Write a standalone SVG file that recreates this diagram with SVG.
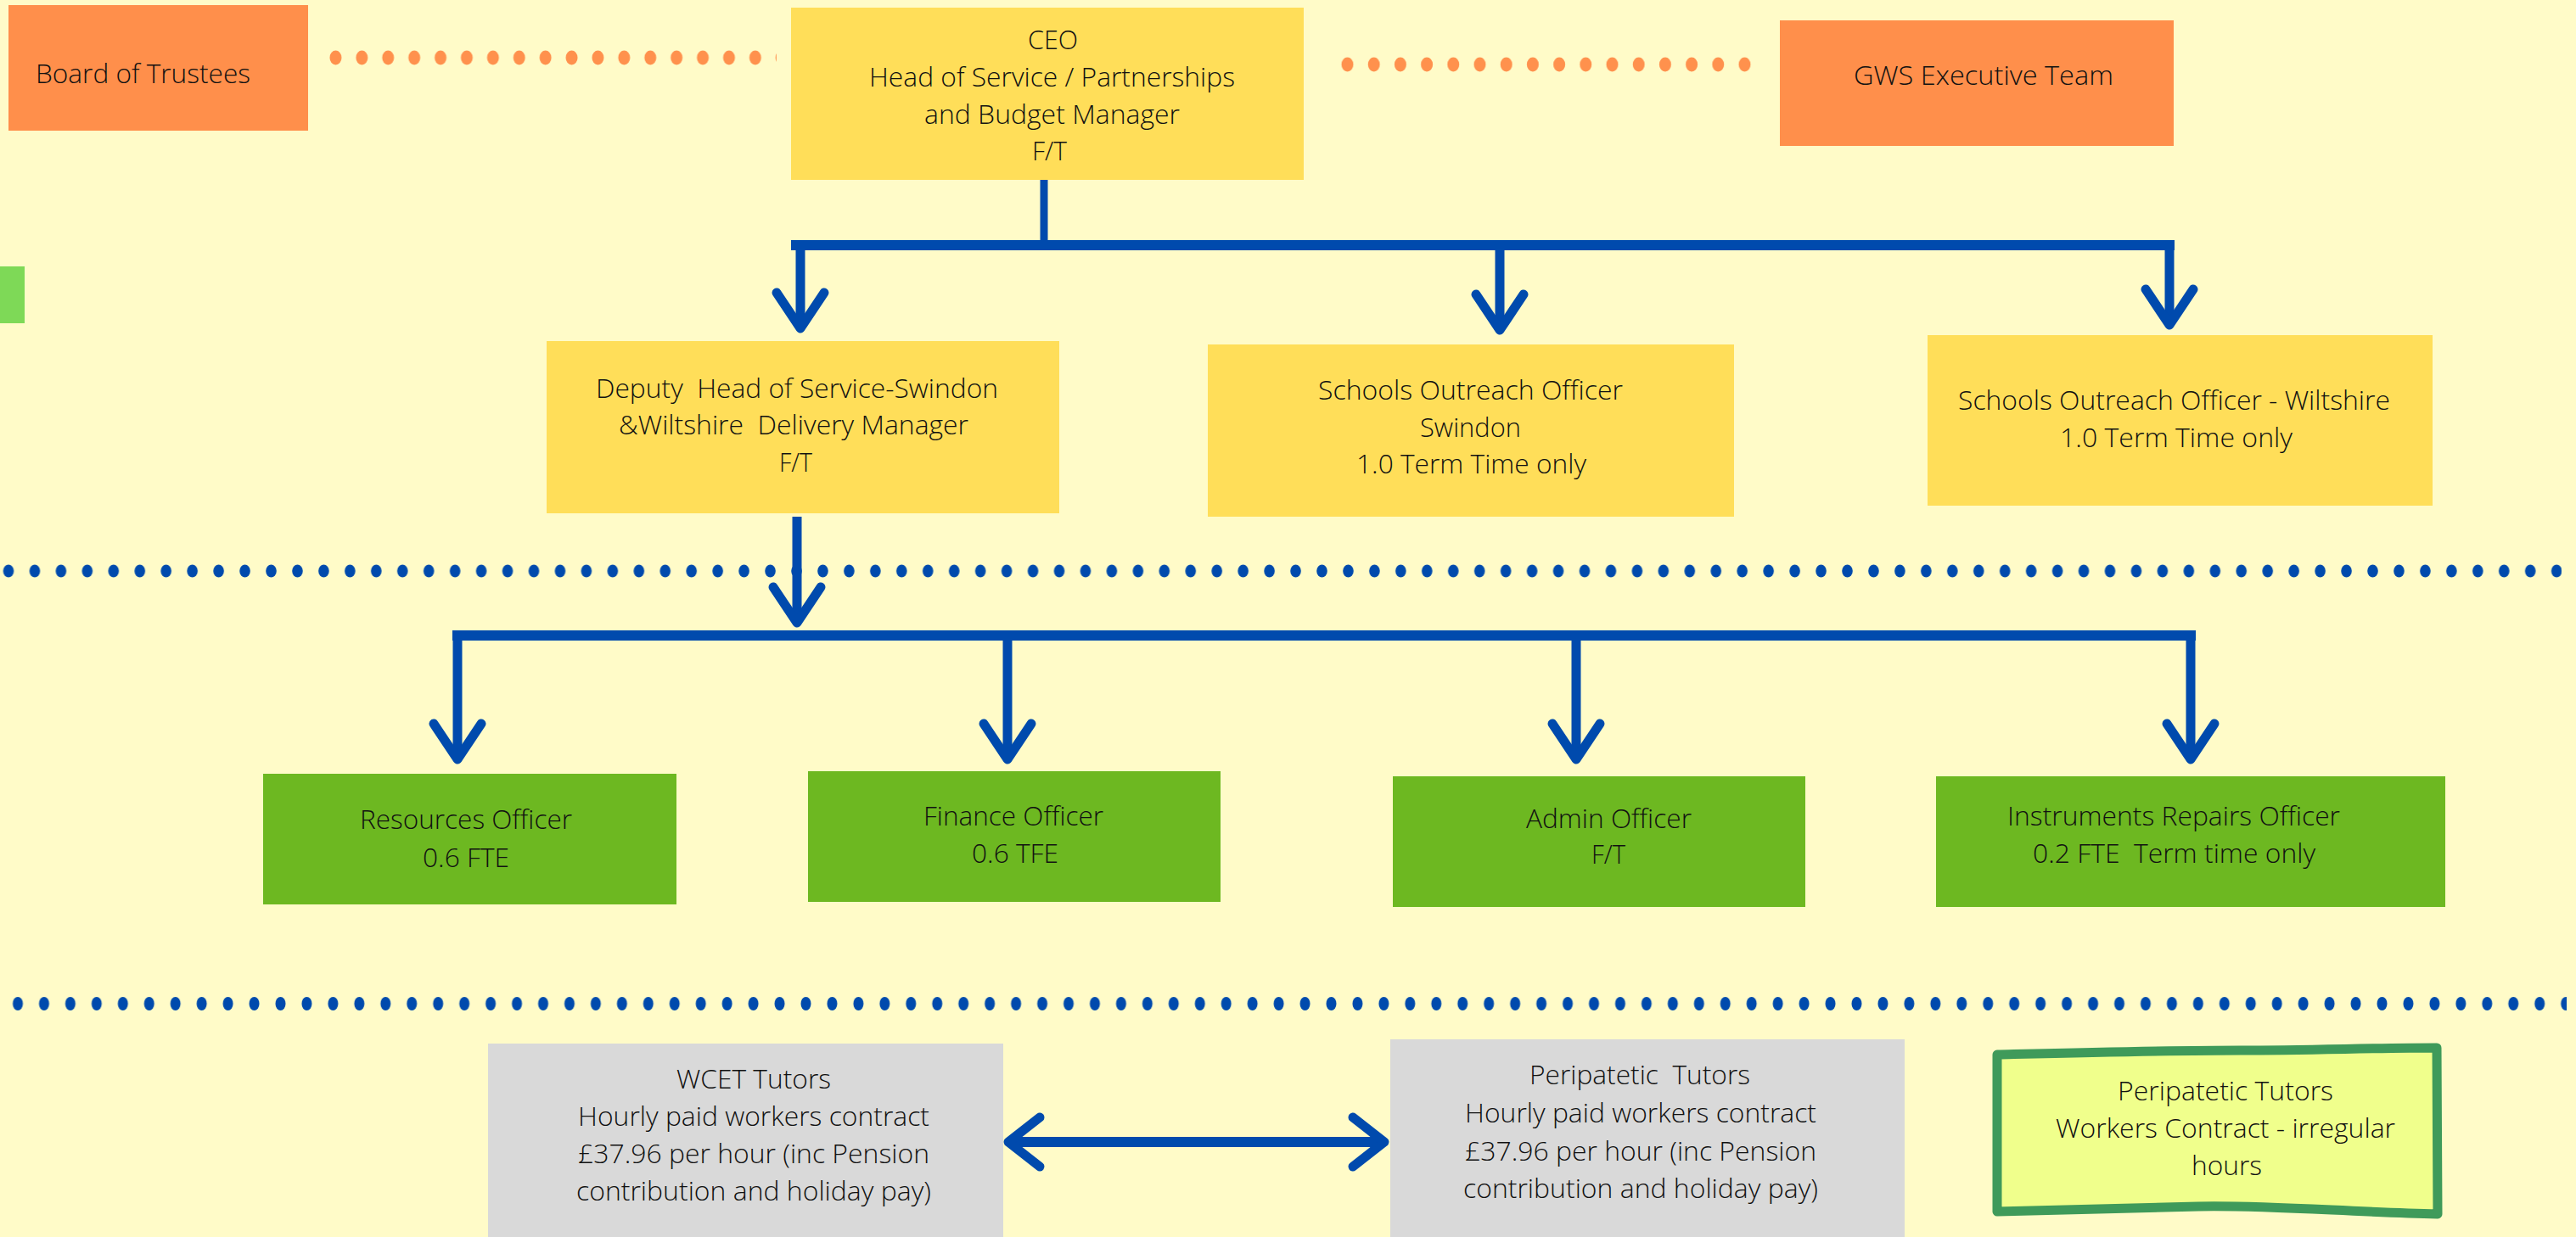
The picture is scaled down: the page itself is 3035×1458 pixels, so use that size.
<svg xmlns="http://www.w3.org/2000/svg" width="3035" height="1458" viewBox="0 0 3035 1458">
<style>
.t{font-family:"Open Sans","Liberation Sans",sans-serif;font-size:32px;font-weight:300;fill:#111;text-anchor:middle;white-space:pre}
.orange{fill:#ff8f4b}
.yellow{fill:#ffde59}
.green{fill:#6db821}
.grey{fill:#d9d9d9}
.ln{fill:none;stroke:#004aad;stroke-linecap:butt}
.ah{fill:none;stroke:#004aad;stroke-width:11;stroke-linecap:round;stroke-linejoin:round}
</style>
<defs>
<pattern id="od1" patternUnits="userSpaceOnUse" x="380" y="56" width="30.9" height="24"><ellipse cx="15.45" cy="12" rx="7" ry="8.5" fill="#ff914d"/></pattern>
<pattern id="od2" patternUnits="userSpaceOnUse" x="1571.9" y="64" width="31.2" height="24"><ellipse cx="15.6" cy="12" rx="7" ry="8.5" fill="#ff914d"/></pattern>
<pattern id="bd1" patternUnits="userSpaceOnUse" x="-5.475" y="663" width="30.95" height="20"><ellipse cx="15.475" cy="10" rx="6.3" ry="7.5" fill="#004aad"/></pattern>
<pattern id="bd2" patternUnits="userSpaceOnUse" x="5.525" y="1173" width="30.95" height="20"><ellipse cx="15.475" cy="10" rx="6" ry="8" fill="#004aad"/></pattern>
<path id="ahd" class="ah" d="M-28,-42 L0,0 L28,-42"/>
</defs>
<rect x="0" y="0" width="3035" height="1458" fill="#fffbc8"/>
<rect x="0" y="314" width="29" height="67" fill="#7ed957"/>

<g id="separators">
<rect x="2" y="663" width="3016" height="20" fill="url(#bd1)"/>
<rect x="12" y="1173" width="3012" height="20" fill="url(#bd2)"/>
</g>

<g id="connectors">
<rect x="386" y="56" width="529" height="24" fill="url(#od1)"/>
<rect x="1578" y="64" width="500" height="24" fill="url(#od2)"/>
<line class="ln" x1="1230" y1="212" x2="1230" y2="289" stroke-width="9"/>
<line class="ln" x1="932" y1="289" x2="2562" y2="289" stroke-width="12"/>
<line class="ln" x1="943" y1="289" x2="943" y2="386" stroke-width="11"/>
<use href="#ahd" transform="translate(943,387)"/>
<line class="ln" x1="1767" y1="295" x2="1767" y2="388" stroke-width="11"/>
<use href="#ahd" transform="translate(1767,389)"/>
<line class="ln" x1="2556" y1="289" x2="2556" y2="382" stroke-width="11"/>
<use href="#ahd" transform="translate(2556,383)"/>
<line class="ln" x1="939" y1="609" x2="939" y2="733" stroke-width="11"/>
<use href="#ahd" transform="translate(939,734)"/>
<line class="ln" x1="533" y1="749" x2="2587" y2="749" stroke-width="12"/>
<line class="ln" x1="539" y1="749" x2="539" y2="894" stroke-width="11"/>
<use href="#ahd" transform="translate(539,895)"/>
<line class="ln" x1="1187" y1="749" x2="1187" y2="894" stroke-width="11"/>
<use href="#ahd" transform="translate(1187,895)"/>
<line class="ln" x1="1857" y1="749" x2="1857" y2="894" stroke-width="11"/>
<use href="#ahd" transform="translate(1857,895)"/>
<line class="ln" x1="2581" y1="749" x2="2581" y2="894" stroke-width="11"/>
<use href="#ahd" transform="translate(2581,895)"/>
<line class="ln" x1="1190" y1="1346" x2="1628" y2="1346" stroke-width="12"/>
<path class="ah" stroke-width="12" d="M1225,1317 L1188,1346 L1225,1375"/>
<path class="ah" stroke-width="12" d="M1594,1317 L1631,1346 L1594,1375"/>
</g>

<g id="board">
<rect class="orange" x="10" y="6" width="353" height="148"/>
<text class="t" x="168.5" y="98" textLength="253" lengthAdjust="spacingAndGlyphs">Board of Trustees</text>
</g>
<g id="ceo">
<rect class="yellow" x="932" y="9" width="604" height="203"/>
<text class="t" x="1240.5" y="58" textLength="59" lengthAdjust="spacingAndGlyphs">CEO</text>
<text class="t" x="1239.5" y="102" textLength="431" lengthAdjust="spacingAndGlyphs">Head of Service / Partnerships</text>
<text class="t" x="1239.5" y="146" textLength="301" lengthAdjust="spacingAndGlyphs">and Budget Manager</text>
<text class="t" x="1236.5" y="189" textLength="41" lengthAdjust="spacingAndGlyphs">F/T</text>
</g>
<g id="gws">
<rect class="orange" x="2097" y="24" width="464" height="148"/>
<text class="t" x="2337" y="100" textLength="306" lengthAdjust="spacingAndGlyphs">GWS Executive Team</text>
</g>
<g id="deputy">
<rect class="yellow" x="644" y="402" width="604" height="203"/>
<text class="t" x="939" y="469" textLength="474" lengthAdjust="spacingAndGlyphs">Deputy  Head of Service-Swindon</text>
<text class="t" x="935" y="512" textLength="412" lengthAdjust="spacingAndGlyphs">&amp;Wiltshire  Delivery Manager</text>
<text class="t" x="937.5" y="556" textLength="39" lengthAdjust="spacingAndGlyphs">F/T</text>
</g>
<g id="outreach-swindon">
<rect class="yellow" x="1423" y="406" width="620" height="203"/>
<text class="t" x="1732.5" y="471" textLength="359" lengthAdjust="spacingAndGlyphs">Schools Outreach Officer</text>
<text class="t" x="1732.5" y="515" textLength="119" lengthAdjust="spacingAndGlyphs">Swindon</text>
<text class="t" x="1733.5" y="558" textLength="271" lengthAdjust="spacingAndGlyphs">1.0 Term Time only</text>
</g>
<g id="outreach-wiltshire">
<rect class="yellow" x="2271" y="395" width="595" height="201"/>
<text class="t" x="2561.5" y="483" textLength="509" lengthAdjust="spacingAndGlyphs">Schools Outreach Officer - Wiltshire</text>
<text class="t" x="2564" y="527" textLength="274" lengthAdjust="spacingAndGlyphs">1.0 Term Time only</text>
</g>
<g id="resources">
<rect class="green" x="310" y="912" width="487" height="154"/>
<text class="t" x="549" y="977" textLength="250" lengthAdjust="spacingAndGlyphs">Resources Officer</text>
<text class="t" x="549" y="1022" textLength="102" lengthAdjust="spacingAndGlyphs">0.6 FTE</text>
</g>
<g id="finance">
<rect class="green" x="952" y="909" width="486" height="154"/>
<text class="t" x="1194" y="973" textLength="212" lengthAdjust="spacingAndGlyphs">Finance Officer</text>
<text class="t" x="1196" y="1017" textLength="102" lengthAdjust="spacingAndGlyphs">0.6 TFE</text>
</g>
<g id="admin">
<rect class="green" x="1641" y="915" width="486" height="154"/>
<text class="t" x="1895.5" y="976" textLength="195" lengthAdjust="spacingAndGlyphs">Admin Officer</text>
<text class="t" x="1895" y="1018" textLength="40" lengthAdjust="spacingAndGlyphs">F/T</text>
</g>
<g id="instruments">
<rect class="green" x="2281" y="915" width="600" height="154"/>
<text class="t" x="2561" y="973" textLength="392" lengthAdjust="spacingAndGlyphs">Instruments Repairs Officer</text>
<text class="t" x="2561.5" y="1017" textLength="333" lengthAdjust="spacingAndGlyphs">0.2 FTE  Term time only</text>
</g>
<g id="wcet">
<rect class="grey" x="575" y="1230" width="607" height="228"/>
<text class="t" x="888" y="1283" textLength="182" lengthAdjust="spacingAndGlyphs">WCET Tutors</text>
<text class="t" x="888" y="1327" textLength="414" lengthAdjust="spacingAndGlyphs">Hourly paid workers contract</text>
<text class="t" x="888" y="1371" textLength="414" lengthAdjust="spacingAndGlyphs">£37.96 per hour (inc Pension</text>
<text class="t" x="888" y="1415" textLength="418" lengthAdjust="spacingAndGlyphs">contribution and holiday pay)</text>
</g>
<g id="peripatetic">
<rect class="grey" x="1638" y="1225" width="606" height="233"/>
<text class="t" x="1932" y="1278" textLength="260" lengthAdjust="spacingAndGlyphs">Peripatetic  Tutors</text>
<text class="t" x="1933" y="1323" textLength="414" lengthAdjust="spacingAndGlyphs">Hourly paid workers contract</text>
<text class="t" x="1933" y="1368" textLength="414" lengthAdjust="spacingAndGlyphs">£37.96 per hour (inc Pension</text>
<text class="t" x="1933" y="1412" textLength="418" lengthAdjust="spacingAndGlyphs">contribution and holiday pay)</text>
</g>
<g id="peripatetic-workers">
<path d="M2353,1243 C2480,1240 2560,1238 2640,1238 C2720,1238 2800,1235 2871,1235 L2872,1431 C2760,1428 2660,1420 2590,1422 C2500,1424 2420,1427 2353,1428 Z" fill="#f0ff8c" stroke="#3f9a5a" stroke-width="11" stroke-linejoin="round"/>
<text class="t" x="2622" y="1297" textLength="254" lengthAdjust="spacingAndGlyphs">Peripatetic Tutors</text>
<text class="t" x="2622" y="1341" textLength="400" lengthAdjust="spacingAndGlyphs">Workers Contract - irregular</text>
<text class="t" x="2623.5" y="1385" textLength="83" lengthAdjust="spacingAndGlyphs">hours</text>
</g>
</svg>
